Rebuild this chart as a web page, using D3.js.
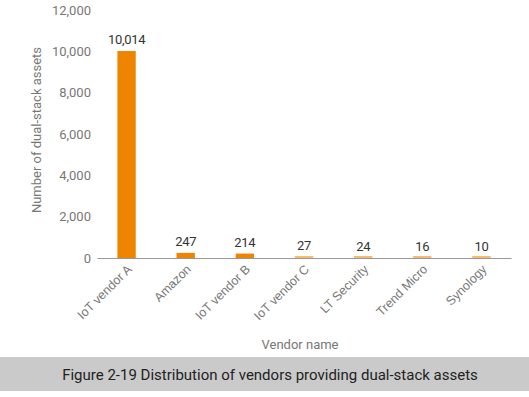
<!DOCTYPE html>
<html>
<head>
<meta charset="utf-8">
<script src="https://cdn.jsdelivr.net/npm/d3@7"></script>
<style>
  html, body { margin: 0; padding: 0; background: #fff; }
  svg { display: block; font-family: Roboto, "Noto Sans", sans-serif; }
</style>
</head>
<body>
<svg id="chart" width="529" height="397"></svg>
<script>
var vendors = ['IoT vendor A', 'Amazon', 'IoT vendor B', 'IoT vendor C', 'LT Security', 'Trend Micro', 'Synology'];
var assets = [10014, 247, 214, 27, 24, 16, 10];
var yTicks = [0, 2000, 4000, 6000, 8000, 10000, 12000];
var caption = 'Figure 2-19 Distribution of vendors providing dual-stack assets';

function drawChart(svgId) {
  const svg = d3.select(svgId);
  svg.selectAll('*').remove();

  const margin = { top: 10, left: 97, right: 18 },
    plotW = 529 - margin.left - margin.right,
    plotH = 248;

  const g = svg.append('g').attr('transform', 'translate(' + margin.left + ',' + margin.top + ')');

  const x = d3.scaleBand().domain(vendors).range([0, plotW]).paddingInner(0.69).paddingOuter(0.345);
  const y = d3.scaleLinear().domain([0, 12000]).range([plotH, 0]);

  // y ticks, no axis line
  const yAxis = g.append('g')
    .call(d3.axisLeft(y).tickValues(yTicks).tickSize(0).tickPadding(6).tickFormat(d3.format(',')));
  yAxis.select('.domain').remove();
  yAxis.selectAll('text').attr('fill', '#777').attr('font-size', '13px').attr('font-family', 'Roboto, sans-serif');

  // x axis line + rotated labels
  const xAxis = g.append('g')
    .attr('transform', 'translate(0,' + plotH + ')')
    .call(d3.axisBottom(x).tickSize(0).tickPadding(0).tickSizeOuter(0));
  xAxis.select('.domain').attr('stroke', '#999');
  xAxis.selectAll('text')
    .attr('fill', '#777')
    .attr('font-size', '12.5px')
    .attr('text-anchor', 'end')
    .attr('dy', 0)
    .attr('transform', 'translate(6,12) rotate(-45)');

  // bars (drawn above the baseline so tiny values still show)
  g.selectAll('rect.bar')
    .data(assets)
    .enter()
    .append('rect')
    .attr('class', 'bar')
    .attr('x', function (d, i) { return x(vendors[i]) })
    .attr('y', function (d) { return Math.min(y(d), plotH - 2) })
    .attr('width', x.bandwidth())
    .attr('height', function (d) { return Math.max(plotH - y(d), 2) })
    .attr('fill', '#ee8400')
    .attr('fill-opacity', function (d) { return plotH - y(d) < 2 ? 0.55 : 1 });

  // value labels
  g.selectAll('text.val')
    .data(assets)
    .enter()
    .append('text')
    .attr('class', 'val')
    .attr('x', function (d, i) { return x(vendors[i]) + x.bandwidth() / 2 })
    .attr('y', function (d) { return y(d) - 7 })
    .attr('text-anchor', 'middle')
    .attr('fill', '#333')
    .attr('font-size', '13px')
    .attr('letter-spacing', '-0.3px')
    .text(d3.format(','));

  // axis titles
  svg.append('text')
    .attr('transform', 'translate(41,' + (margin.top + 120) + ') rotate(-90)')
    .attr('text-anchor', 'middle')
    .attr('fill', '#777')
    .attr('font-size', '13px')
    .text('Number of dual-stack assets');

  svg.append('text')
    .attr('x', 300).attr('y', 349)
    .attr('text-anchor', 'middle')
    .attr('fill', '#777')
    .attr('font-size', '13px')
    .text('Vendor name');

  // caption band
  svg.append('rect')
    .attr('x', 0).attr('y', 357).attr('width', 529).attr('height', 34)
    .attr('fill', '#cacaca');
  svg.append('text')
    .attr('x', 270).attr('y', 380)
    .attr('text-anchor', 'middle')
    .attr('fill', '#222')
    .attr('font-size', '15px')
    .text(caption);
}

drawChart('#chart');
</script>
</body>
</html>
